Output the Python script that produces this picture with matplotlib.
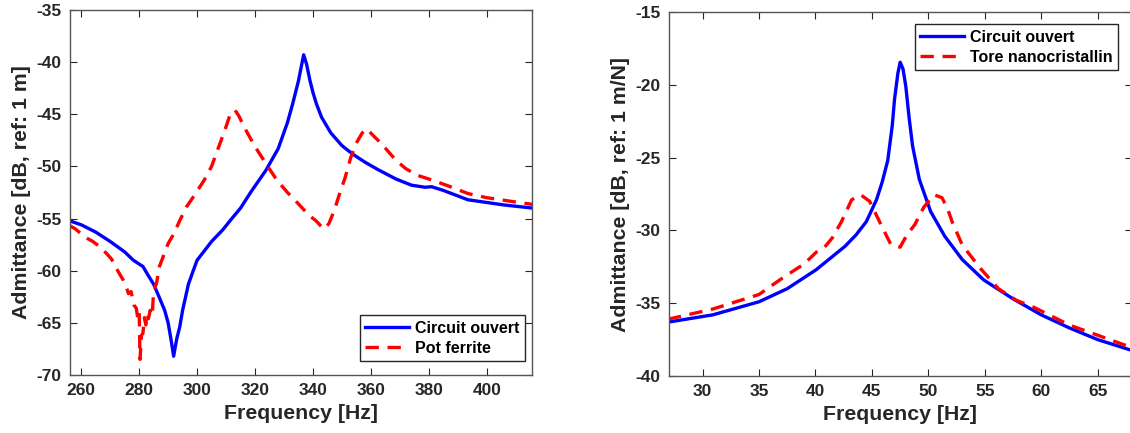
import matplotlib.pyplot as plt

plt.rcParams['font.family'] = ['Liberation Sans', 'DejaVu Sans']
plt.rcParams['font.weight'] = 'bold'
plt.rcParams['axes.unicode_minus'] = False

# ------------------------------
# left panel: pot ferrite
# ------------------------------
f_co_1 = [255.8, 260, 265, 270, 275, 278, 281.3, 283, 285, 287, 288.8, 290, 291, 291.9,
          293, 294, 295, 297, 298.8, 300, 305, 308.8, 312, 315, 318.7, 323.7, 328, 331.2,
          333, 335, 336, 336.8, 337.8, 339, 340, 341.2, 343, 346.2, 350, 353.6, 358,
          362.4, 368.6, 374, 378.7, 381, 385, 393.5, 406, 417.6]
y_co_1 = [-55.2, -55.6, -56.3, -57.2, -58.2, -59.0, -59.6, -60.4, -61.3, -62.6, -63.8, -65.0, -66.6, -68.2,
          -66.5, -65.4, -63.8, -61.3, -59.9, -59.0, -57.2, -56.1, -55.0, -54.0, -52.4, -50.4, -48.3, -45.8,
          -44.0, -41.8, -40.4, -39.3, -40.2, -41.8, -42.9, -44.0, -45.3, -46.8, -48.0, -48.8, -49.6,
          -50.3, -51.2, -51.8, -52.0, -51.95, -52.3, -53.2, -53.7, -54.05]

f_pf = [255.8, 258, 261.4, 264, 266.4, 268.9, 270.5, 272, 273, 274.5, 275.5, 276.3, 277.2,
        278.2, 279, 279.5, 280, 280.3, 280.8, 281.3, 281.8, 282.3, 282.6, 283.2, 283.8, 284.5,
        285, 286, 287, 288.5, 290, 291.9, 294, 296.3, 299, 302.5, 305, 307.5, 309.5, 311.2,
        313.1, 314.5, 316.2, 318, 320, 323.7, 327.5, 331.2, 335, 338.7, 341, 343.7, 345.5,
        347.4, 349, 351.2, 353, 354.9, 357, 358.6, 361, 363.6, 368.6, 372, 376, 381, 387,
        393.5, 400, 406, 412, 417.6]
y_pf = [-55.65, -56.0, -56.8, -57.2, -57.7, -58.4, -58.9, -59.7, -60.2, -60.9, -61.5, -62.2, -62.0,
        -63.3, -63.6, -64.5, -63.9, -68.5, -66.2, -66.0, -64.5, -65.2, -64.1, -64.6, -63.8, -64.3,
        -61.9, -61.2, -59.6, -58.5, -57.4, -56.5, -55.2, -53.9, -52.8, -51.3, -50.0, -48.1, -46.6, -45.2,
        -44.6, -45.2, -46.2, -47.1, -48.1, -49.7, -51.3, -52.5, -53.6, -54.7, -55.2, -56.0, -55.5,
        -54.2, -52.8, -51.0, -49.2, -47.8, -46.8, -46.4, -47.1, -47.8, -49.4, -50.2, -50.85, -51.3, -51.9,
        -52.6, -53.0, -53.25, -53.5, -53.7]

# ------------------------------
# right panel: tore nanocristallin
# ------------------------------
f_co_2 = [26.93, 30.9, 35.0, 37.5, 40.06, 42.6, 43.6, 44.5, 45.4, 45.9, 46.4, 46.8, 47.0, 47.3,
          47.5, 47.75, 48.0, 48.3, 48.6, 49.2, 50.2, 51.45, 53.0, 54.9, 57.5, 60.0, 62.5, 65.0, 67.85]
y_co_2 = [-36.3, -35.8, -34.9, -34.0, -32.7, -31.1, -30.3, -29.4, -27.9, -26.7, -25.2, -22.8, -21.0, -19.2,
          -18.45, -18.9, -20.1, -22.3, -24.2, -26.5, -28.7, -30.4, -32.0, -33.4, -34.7, -35.8, -36.7, -37.5, -38.2]

f_tn = [26.93, 30.9, 35.0, 37.2, 39.0, 40.06, 40.7, 41.5, 42.3, 43.2, 44.0, 44.8, 45.3, 45.8, 46.7,
        47.5, 48.1, 48.8, 49.6, 50.5, 51.2, 51.7, 52.1, 53.0, 54.6, 56.2, 57.8, 59.4, 62.5, 65.0, 67.85]
y_tn = [-36.1, -35.4, -34.4, -33.2, -32.3, -31.5, -31.25, -30.5, -29.4, -27.9, -27.55, -28.0, -28.8, -29.6, -31.0,
        -31.15, -30.3, -29.6, -28.4, -27.55, -27.75, -28.5, -29.4, -31.0, -32.6, -34.0, -34.8, -35.3, -36.5, -37.2, -38.0]

fig = plt.figure(figsize=(11.3, 4.33), dpi=100)
ax1 = fig.add_axes([0.0619, 0.134, 0.4088, 0.843])
ax2 = fig.add_axes([0.5918, 0.1316, 0.4096, 0.8406])

dash = (0, (4, 2.6))

ax1.plot(f_co_1, y_co_1, color='#0000ff', lw=2.4, label='Circuit ouvert')
ax1.plot(f_pf, y_pf, color='#ff0000', lw=2.4, ls=dash, label='Pot ferrite')
ax1.set_xlim(256.1, 415.6)
ax1.set_ylim(-70, -35)
ax1.set_xticks(range(260, 401, 20))
ax1.set_yticks(range(-70, -34, 5))
ax1.set_ylabel('Admittance [dB, ref: 1 m]', fontsize=15.3, fontweight='bold', color='#262626')
ax1.legend(loc='lower right', bbox_to_anchor=(0.985, 0.038), borderaxespad=0,
           fancybox=False, edgecolor='#262626', framealpha=1, fontsize=11.5,
           handlelength=2.7, handletextpad=0.4, borderpad=0.35, labelspacing=0.3)

ax2.plot(f_co_2, y_co_2, color='#0000ff', lw=2.4, label='Circuit ouvert')
ax2.plot(f_tn, y_tn, color='#ff0000', lw=2.4, ls=dash, label='Tore nanocristallin')
ax2.set_xlim(27, 68)
ax2.set_ylim(-40, -15)
ax2.set_xticks(range(30, 66, 5))
ax2.set_yticks(range(-40, -14, 5))
ax2.set_ylabel('Admittance [dB, ref: 1 m/N]', fontsize=15.3, fontweight='bold', color='#262626')
ax2.legend(loc='upper right', bbox_to_anchor=(0.971, 0.966), borderaxespad=0,
           fancybox=False, edgecolor='#262626', framealpha=1, fontsize=11.5,
           handlelength=2.7, handletextpad=0.4, borderpad=0.35, labelspacing=0.3)

for ax in (ax1, ax2):
    ax.set_xlabel('Frequency [Hz]', fontsize=15.3, fontweight='bold', color='#262626')
    ax.tick_params(direction='in', top=True, right=True, length=5, width=0.8,
                   labelsize=12.5, labelcolor='#262626', colors='#262626', pad=6)
    for lab in ax.get_xticklabels() + ax.get_yticklabels():
        lab.set_fontweight('bold')
    for s in ax.spines.values():
        s.set_color('#555555')
        s.set_linewidth(1.0)

plt.savefig('out.png', dpi=100)
